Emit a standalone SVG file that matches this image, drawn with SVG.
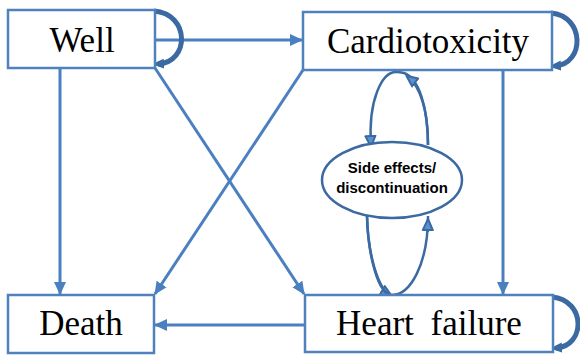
<svg xmlns="http://www.w3.org/2000/svg" width="580" height="357" viewBox="0 0 580 357">
<defs>
<style>
.box{fill:#fff;stroke:#4f81bd;stroke-width:2.5}
.lbl{font-family:"Liberation Serif",serif;font-size:35px;fill:#000;text-anchor:middle}
.edge{fill:none;stroke:#4a7fc0;stroke-width:3}
.loop{fill:none;stroke:#3b6aa3;stroke-width:5}
.sl{fill:none;stroke:#3b6aa3;stroke-width:2.5}
.el{font-family:"Liberation Sans",sans-serif;font-weight:bold;font-size:15px;fill:#000;text-anchor:middle}
</style>
<marker id="ah" markerWidth="13" markerHeight="13" refX="12" refY="6.5" orient="auto" markerUnits="userSpaceOnUse" viewBox="0 0 13 13">
<path d="M0,0.5 L13,6.5 L0,12.5 Z" fill="#4a7fc0"/>
</marker>
<marker id="ahl" markerWidth="12" markerHeight="12" refX="6" refY="6" orient="auto" markerUnits="userSpaceOnUse" viewBox="0 0 12 12">
<path d="M0,1 L12,6 L0,11 Z" fill="#3b6aa3"/>
</marker>
<marker id="ahs" markerWidth="14" markerHeight="14" refX="10" refY="7" orient="auto" markerUnits="userSpaceOnUse" viewBox="0 0 14 14">
<path d="M1,2 L12,7 L1,12 Z" fill="#5a8fd0" stroke="#3b6aa3" stroke-width="2" stroke-linejoin="round"/>
</marker>
</defs>
<g id="connectors">
<line class="edge" x1="155" y1="40" x2="302" y2="40" marker-end="url(#ah)"/>
<line class="edge" x1="60" y1="68" x2="60" y2="294" marker-end="url(#ah)"/>
<line class="edge" x1="155" y1="68" x2="304" y2="294" marker-end="url(#ah)"/>
<line class="edge" x1="303" y1="70" x2="155" y2="294" marker-end="url(#ah)"/>
<line class="edge" x1="503" y1="70" x2="503" y2="294" marker-end="url(#ah)"/>
<line class="edge" x1="305" y1="325" x2="155" y2="325" marker-end="url(#ah)"/>
<path class="loop" d="M154,11 C190,14 190,62 158,64" marker-end="url(#ahl)"/>
<path class="loop" d="M551,13 C585,16 585,64 555,66" marker-end="url(#ahl)"/>
<path class="loop" d="M552,297 C586,300 586,346 556,348" marker-end="url(#ahl)"/>
<path class="sl" d="M396,72 C382,72 368,100 371,145" marker-end="url(#ahs)"/>
<path class="sl" d="M428,145 C428,105 418,78 404,73 C400,72 398,72 396,72"/>
<path class="sl" d="M428,145 C428,110 420,86 408,77" marker-end="url(#ahs)"/>
<path class="sl" d="M367,216 C368,255 378,288 390,295" marker-end="url(#ahs)"/>
<path class="sl" d="M367,216 C368,255 378,295 392,295 C410,295 428,265 428,216"/>
<path class="sl" d="M427.8,232 L428,221" marker-end="url(#ahs)"/>
</g>
<g id="well"><rect class="box" x="8" y="10" width="147" height="58"/><text class="lbl" x="82" y="52">Well</text></g>
<g id="cardiotoxicity"><rect class="box" x="303" y="12" width="249" height="58"/><text class="lbl" x="428" y="53">Cardiotoxicity</text></g>
<g id="death"><rect class="box" x="8" y="295" width="146" height="58"/><text class="lbl" x="81" y="335">Death</text></g>
<g id="heartfailure"><rect class="box" x="305" y="295" width="248" height="57"/><text class="lbl" x="429" y="335" word-spacing="8">Heart failure</text></g>
<g id="sideeffects"><ellipse cx="392" cy="180" rx="70" ry="38" fill="#fff" stroke="#3b6aa3" stroke-width="2.5"/><text class="el" x="392" y="173">Side effects/</text><text class="el" x="392" y="193">discontinuation</text></g>
</svg>
